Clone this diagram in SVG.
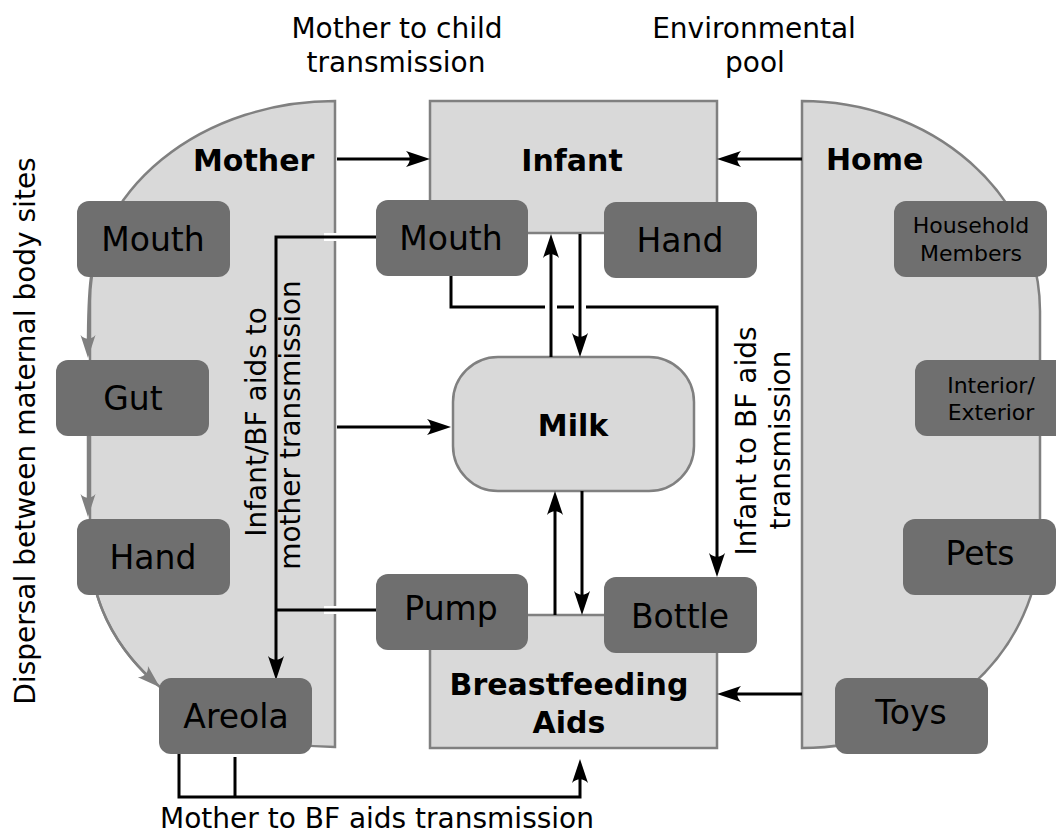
<svg xmlns="http://www.w3.org/2000/svg" width="1056" height="833" viewBox="0 0 1056 833">
<style>
.region{fill:#d9d9d9;stroke:#808080;stroke-width:2.5}
.site{fill:#6f6f6f;stroke:none}
.t{font-family:"DejaVu Sans","Liberation Sans",sans-serif;fill:#000}
.lbl{font-size:28px}
.box{font-size:33px;text-anchor:middle}
.small{font-size:22px;text-anchor:middle}
.head{font-size:30px;font-weight:bold}
.conn{fill:none;stroke:#000;stroke-width:3;marker-end:url(#ah)}
.line{fill:none;stroke:#000;stroke-width:3}
.gconn{fill:none;stroke:#808080;stroke-width:2.5;marker-end:url(#gh)}
.halo{fill:none;stroke:#fff;stroke-width:12}
</style>
<defs>
<marker id="ah" markerUnits="userSpaceOnUse" viewBox="-15 -9 26 18" markerWidth="26" markerHeight="18" refX="0" refY="0" orient="auto">
<path d="M10,0 L-14,-8 C-9,-3 -9,3 -14,8 Z" fill="#000"/>
</marker>
<marker id="gh" markerUnits="userSpaceOnUse" viewBox="-15 -9 26 18" markerWidth="26" markerHeight="18" refX="0" refY="0" orient="auto">
<path d="M10,0 L-13,-7.5 C-8,-3 -8,3 -13,7.5 Z" fill="#808080"/>
</marker>
</defs>
<rect width="1056" height="833" fill="#fff"/>

<g id="labels">
<text class="t lbl" x="397" y="38" text-anchor="middle">Mother to child</text>
<text class="t lbl" x="396" y="72" text-anchor="middle">transmission</text>
<text class="t lbl" x="754" y="38" text-anchor="middle">Environmental</text>
<text class="t lbl" x="755" y="72" text-anchor="middle">pool</text>
<text class="t lbl" transform="translate(35,431) rotate(-90)" text-anchor="middle">Dispersal between maternal body sites</text>
<text class="t lbl" x="377" y="828" text-anchor="middle">Mother to BF aids transmission</text>
</g>

<g id="mother">
<path class="region" d="M335,101 A245,200 0 0 0 90,301 L90,547 A245,200 0 0 0 335,747 Z"/>
<text class="t head" x="193" y="171">Mother</text>
</g>
<g id="home">
<path class="region" d="M802,101 A238,210 0 0 1 1040,311 L1040,538 A238,210 0 0 1 802,748 Z"/>
<text class="t head" x="826" y="170">Home</text>
</g>
<g id="infant">
<rect class="region" x="430" y="101" width="287" height="132"/>
<text class="t head" x="572" y="171" text-anchor="middle">Infant</text>
</g>
<g id="bfaids">
<rect class="region" x="430" y="615" width="287" height="133"/>
<text class="t head" x="569" y="695" text-anchor="middle">Breastfeeding</text>
<text class="t head" x="569" y="733" text-anchor="middle">Aids</text>
</g>
<g id="milk">
<rect class="region" x="453" y="357" width="241" height="134" rx="45"/>
<text class="t head" x="573" y="436" text-anchor="middle">Milk</text>
</g>

<g id="connectors">
<path class="gconn" d="M91,277 Q88,300 88,348"/>
<path class="gconn" d="M88,436 V507"/>
<path class="gconn" d="M97,595 A245,200 0 0 0 152.5,680.4"/>

<path class="conn" d="M337,159 H420"/>
<path class="conn" d="M802,159 H727"/>
<path class="conn" d="M337,427 H441"/>
<path class="conn" d="M802,694 H727"/>

<path class="conn" d="M451,276 V307 H717 V567"/>
<path class="halo" d="M551,300 V314 M580,300 V314"/>
<path class="conn" d="M580,234 V347"/>
<path class="conn" d="M551,357 V244"/>
<path class="conn" d="M582,491 V605"/>
<path class="conn" d="M555,615 V501"/>

<path fill="none" stroke="#fff" stroke-width="8" d="M324,237 H337 M324,610 H337"/>
<path class="conn" d="M376,237 H276 V670"/>
<path class="line" d="M376,610 H276"/>

<path class="conn" d="M179,754 V797 H580 V769"/>
<path class="line" d="M235,757 V797"/>
</g>

<g id="mother-mouth"><rect class="site" x="77" y="201" width="153" height="76" rx="12"/><text class="t box" x="153" y="251">Mouth</text></g>
<g id="mother-gut"><rect class="site" x="56" y="360" width="153" height="76" rx="12"/><text class="t box" x="133" y="410">Gut</text></g>
<g id="mother-hand"><rect class="site" x="77" y="519" width="153" height="76" rx="12"/><text class="t box" x="153" y="569">Hand</text></g>
<g id="mother-areola"><rect class="site" x="159" y="678" width="153" height="76" rx="12"/><text class="t box" x="236" y="728">Areola</text></g>

<g id="infant-mouth"><rect class="site" x="376" y="200" width="152" height="76" rx="12"/><text class="t box" x="451" y="250">Mouth</text></g>
<g id="infant-hand"><rect class="site" x="604" y="202" width="153" height="76" rx="12"/><text class="t box" x="680" y="252">Hand</text></g>
<g id="pump"><rect class="site" x="376" y="574" width="152" height="76" rx="12"/><text class="t box" x="451" y="620">Pump</text></g>
<g id="bottle"><rect class="site" x="604" y="577" width="153" height="76" rx="12"/><text class="t box" x="680" y="628">Bottle</text></g>

<g id="household"><rect class="site" x="894" y="201" width="153" height="76" rx="12"/><text class="t small" x="971" y="233">Household</text><text class="t small" x="971" y="261">Members</text></g>
<g id="interior"><rect class="site" x="915" y="360" width="153" height="76" rx="12"/><text class="t small" x="991" y="393">Interior/</text><text class="t small" x="991" y="420">Exterior</text></g>
<g id="pets"><rect class="site" x="903" y="519" width="153" height="76" rx="12"/><text class="t box" x="980" y="565">Pets</text></g>
<g id="toys"><rect class="site" x="835" y="678" width="153" height="76" rx="12"/><text class="t box" x="911" y="724">Toys</text></g>

<g id="side-labels">
<text class="t lbl" transform="translate(266,422) rotate(-90)" text-anchor="middle">Infant/BF aids to</text>
<text class="t lbl" transform="translate(300,425) rotate(-90)" text-anchor="middle">mother transmission</text>
<text class="t lbl" transform="translate(756,441) rotate(-90)" text-anchor="middle">Infant to BF aids</text>
<text class="t lbl" transform="translate(790,440) rotate(-90)" text-anchor="middle">transmission</text>
</g>
</svg>
